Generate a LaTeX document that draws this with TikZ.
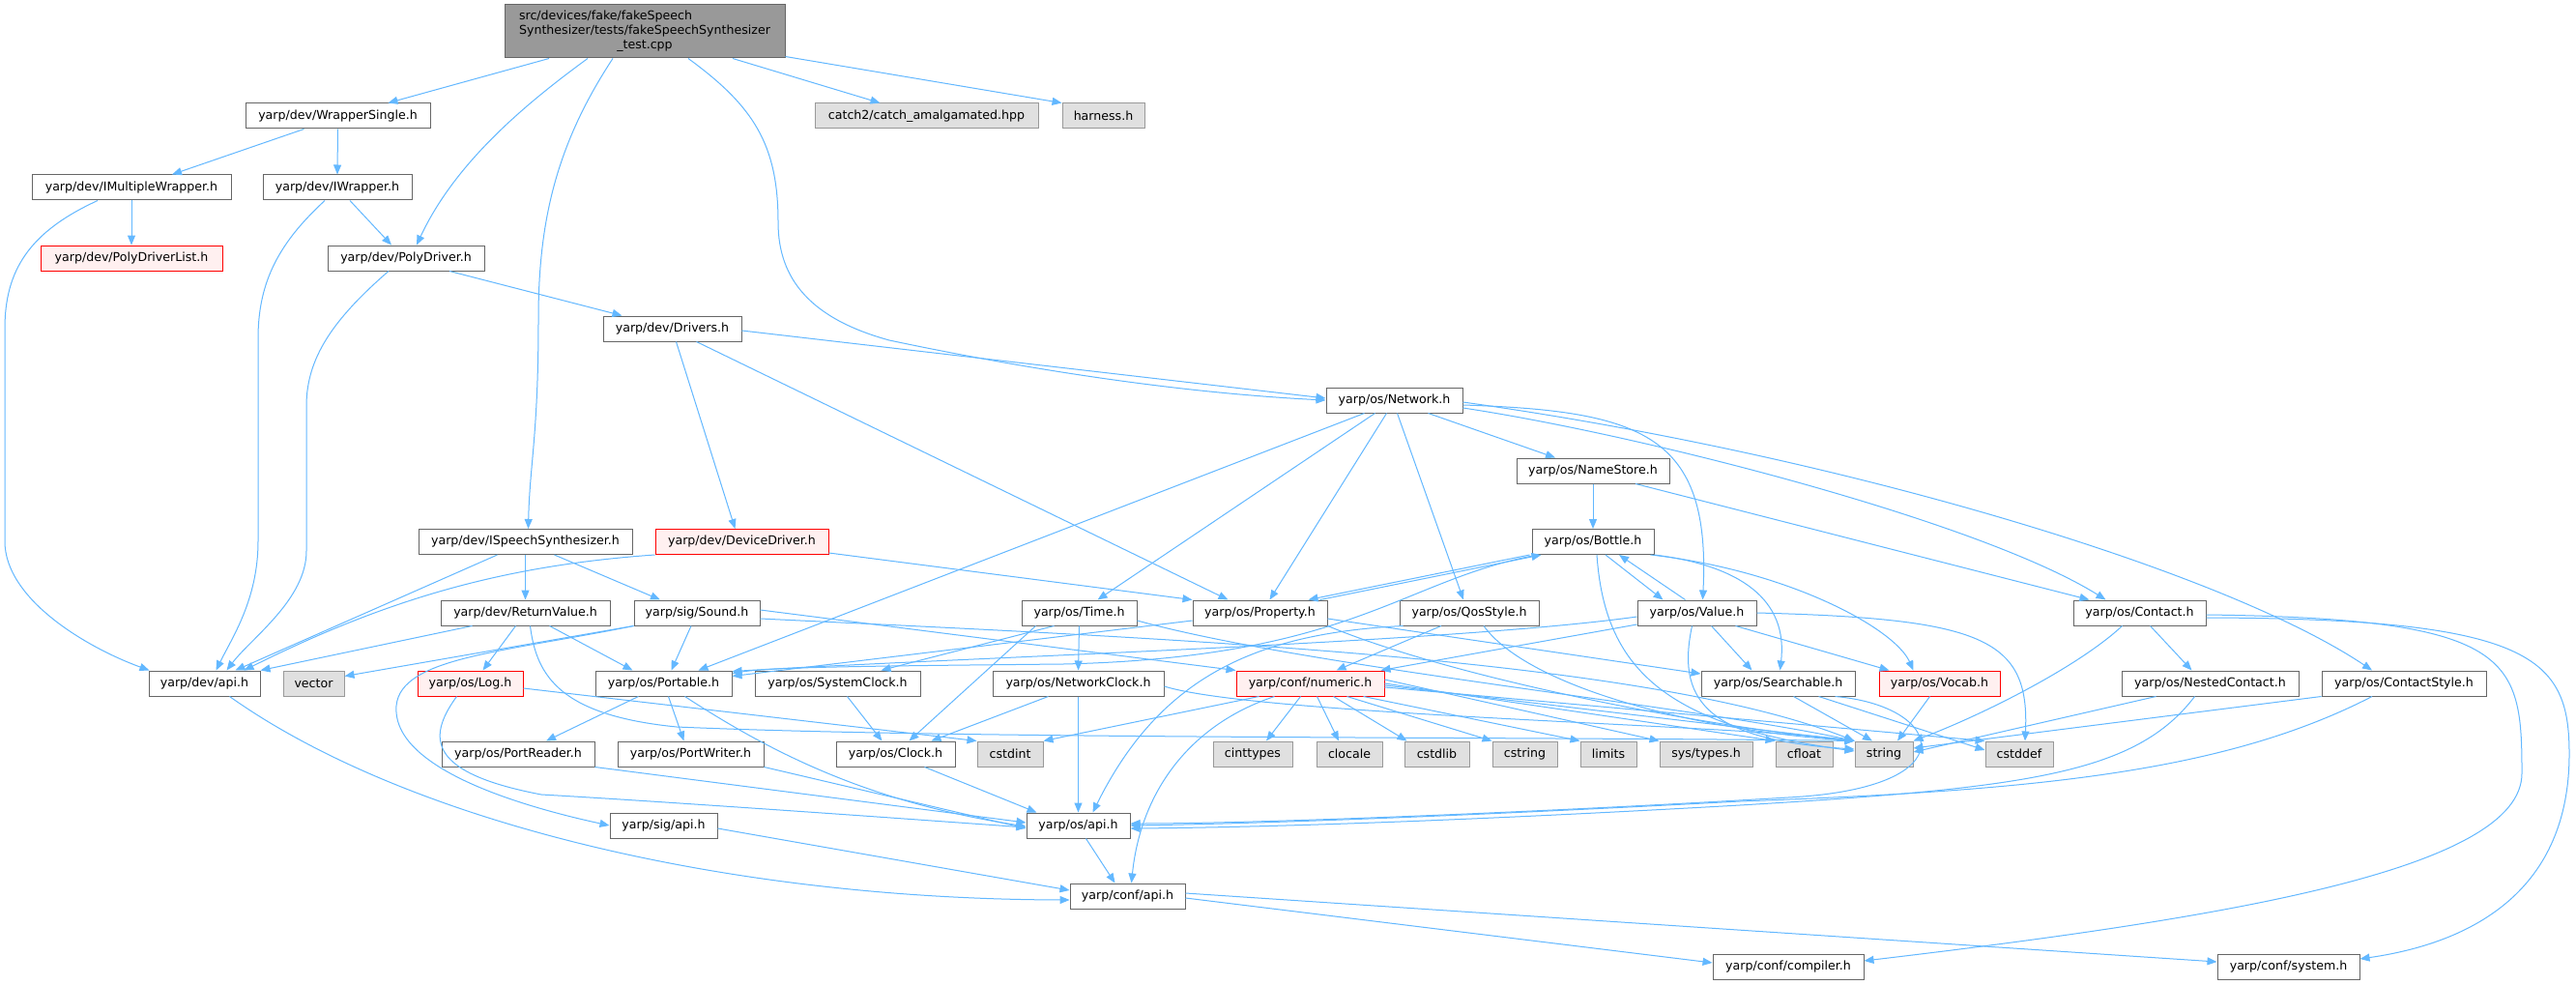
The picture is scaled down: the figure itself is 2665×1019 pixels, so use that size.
\documentclass[tikz,border=0pt]{standalone}
\usepackage{fontspec}
\usetikzlibrary{arrows.meta}
\newfontfamily\dvs{DejaVu Sans}
\newcommand\ndfont{\dvs\fontsize{12.6}{15.3}\selectfont}
\definecolor{eblue}{HTML}{63B8FF}
\definecolor{bord}{HTML}{666666}
\definecolor{gbord}{HTML}{999999}
\definecolor{gfill}{HTML}{E0E0E0}
\definecolor{rfill}{HTML}{FFF0F0}
\definecolor{mfill}{HTML}{999999}
\definecolor{rbord}{HTML}{FF0000}
\tikzset{
  nd/.style={draw=bord, fill=white, line width=1pt, minimum height=26pt, inner sep=0pt, font=\ndfont, text=black},
  gnd/.style={nd, draw=gbord, fill=gfill},
  rnd/.style={nd, draw=rbord, fill=rfill},
  e/.style={draw=eblue, line width=1pt, -{Triangle[length=10pt,width=8pt]}},
}
\begin{document}
\begin{tikzpicture}[x=1pt,y=-1pt]
\fill[white] (0,0) rectangle (2665,1019);
\useasboundingbox (0,0) rectangle (2665,1019);
% ---------- nodes ----------
\node[nd, fill=mfill, minimum width=290pt, minimum height=55pt] (main) at (667,32.5)
  {\begin{tabular}{@{}l@{}}src/devices/fake/fakeSpeech\\Synthesizer/tests/fakeSpeechSynthesizer\\\multicolumn{1}{@{}c@{}}{\_test.cpp}\end{tabular}};
\node[nd, minimum width=191pt] (ws) at (349.5,120) {yarp/dev/WrapperSingle.h};
\node[gnd, minimum width=231pt] (catch) at (958.5,120) {catch2/catch\_amalgamated.hpp};
\node[gnd, minimum width=85pt] (harness) at (1141.5,120) {harness.h};
\node[nd, minimum width=206pt] (imw) at (136,194) {yarp/dev/IMultipleWrapper.h};
\node[nd, minimum width=154pt] (iw) at (349,194) {yarp/dev/IWrapper.h};
\node[rnd, minimum width=188pt] (pdl) at (136,267) {yarp/dev/PolyDriverList.h};
\node[nd, minimum width=162pt] (pd) at (420,267) {yarp/dev/PolyDriver.h};
\node[nd, minimum width=143pt] (drivers) at (695.5,340) {yarp/dev/Drivers.h};
\node[nd, minimum width=141pt] (net) at (1442.5,414) {yarp/os/Network.h};
\node[nd, minimum width=158pt] (ns) at (1648,487) {yarp/os/NameStore.h};
\node[nd, minimum width=221pt] (isp) at (543.5,560.5) {yarp/dev/ISpeechSynthesizer.h};
\node[rnd, minimum width=179pt] (dd) at (767.5,560.5) {yarp/dev/DeviceDriver.h};
\node[nd, minimum width=126pt] (bottle) at (1648,560.5) {yarp/os/Bottle.h};
\node[nd, minimum width=175pt] (rv) at (543.5,634) {yarp/dev/ReturnValue.h};
\node[nd, minimum width=130pt] (snd) at (721,634) {yarp/sig/Sound.h};
\node[nd, minimum width=119pt] (time) at (1116.5,634) {yarp/os/Time.h};
\node[nd, minimum width=139pt] (prop) at (1303.5,634) {yarp/os/Property.h};
\node[nd, minimum width=144pt] (qos) at (1520,634) {yarp/os/QosStyle.h};
\node[nd, minimum width=123pt] (value) at (1755.5,634) {yarp/os/Value.h};
\node[nd, minimum width=137pt] (contact) at (2213.5,634) {yarp/os/Contact.h};
\node[nd, minimum width=115pt] (devapi) at (211.5,707) {yarp/dev/api.h};
\node[gnd, minimum width=63pt] (vector) at (324.5,707) {vector};
\node[rnd, minimum width=109pt] (log) at (486.5,707) {yarp/os/Log.h};
\node[nd, minimum width=141pt] (portable) at (686.5,707) {yarp/os/Portable.h};
\node[nd, minimum width=171pt] (sc) at (866.5,707) {yarp/os/SystemClock.h};
\node[nd, minimum width=177pt] (nc) at (1115.5,707) {yarp/os/NetworkClock.h};
\node[rnd, minimum width=153pt] (numeric) at (1355.5,707) {yarp/conf/numeric.h};
\node[nd, minimum width=159pt] (searchable) at (1839.5,707) {yarp/os/Searchable.h};
\node[rnd, minimum width=125pt] (vocab) at (2006.5,707) {yarp/os/Vocab.h};
\node[nd, minimum width=183pt] (nested) at (2286.5,707) {yarp/os/NestedContact.h};
\node[nd, minimum width=170pt] (cstyle) at (2487,707) {yarp/os/ContactStyle.h};
\node[nd, minimum width=158pt] (pr) at (536,780) {yarp/os/PortReader.h};
\node[nd, minimum width=151pt] (pw) at (714.5,780) {yarp/os/PortWriter.h};
\node[nd, minimum width=123pt] (clock) at (926.5,780) {yarp/os/Clock.h};
\node[gnd, minimum width=68pt] (cstdint) at (1045,780) {cstdint};
\node[gnd, minimum width=82pt] (cinttypes) at (1296,780) {cinttypes};
\node[gnd, minimum width=68pt] (clocale) at (1396,780) {clocale};
\node[gnd, minimum width=67pt] (cstdlib) at (1486.5,780) {cstdlib};
\node[gnd, minimum width=67pt] (cstring) at (1577.5,780) {cstring};
\node[gnd, minimum width=58pt] (limits) at (1664,780) {limits};
\node[gnd, minimum width=96pt] (systypes) at (1765,780) {sys/types.h};
\node[gnd, minimum width=59pt] (cfloat) at (1866.5,780) {cfloat};
\node[gnd, minimum width=60pt] (strg) at (1949,780) {string};
\node[gnd, minimum width=70pt] (cstddef) at (2089,780) {cstddef};
\node[nd, minimum width=111pt] (sigapi) at (686.5,854) {yarp/sig/api.h};
\node[nd, minimum width=107pt] (osapi) at (1115.5,854) {yarp/os/api.h};
\node[nd, minimum width=119pt] (confapi) at (1166.5,927) {yarp/conf/api.h};
\node[nd, minimum width=156pt] (compiler) at (1850,1000) {yarp/conf/compiler.h};
\node[nd, minimum width=147pt] (system) at (2367.5,1000) {yarp/conf/system.h};
% ---------- edges ----------
% main
\draw[e] ([xshift=-99pt]main.south) -- ([xshift=52pt]ws.north);
\draw[e] ([xshift=-59pt]main.south) .. controls (540,110) and (470,170) .. ([xshift=11pt]pd.north);
\draw[e] ([xshift=-33pt]main.south) .. controls (575,150) and (557,230) .. (557,330) .. controls (557,450) and (548,480) .. ([xshift=3pt]isp.north);
\draw[e] ([xshift=45pt]main.south) .. controls (780,110) and (805,150) .. (805,230) .. controls (805,290) and (840,330) .. (920,352) .. controls (1100,390) and (1250,408) .. (net.west);
\draw[e] ([xshift=91pt]main.south) -- ([xshift=-48pt]catch.north);
\draw[e] ([yshift=2pt]main.south east) -- (harness.north west);
% wrappers
\draw[e] ([xshift=-35pt]ws.south) -- ([xshift=42pt]imw.north);
\draw[e] (ws.south) -- (iw.north);
\draw[e] (imw.south) -- (pdl.north);
\draw[e] ([xshift=-35pt]imw.south) .. controls (30,240) and (5,280) .. (5,340) -- (5,560) .. controls (5,620) and (90,670) .. ([xshift=-57pt]devapi.north);
\draw[e] ([xshift=13pt]iw.south) -- ([xshift=-15pt]pd.north);
\draw[e] ([xshift=-13pt]iw.south) .. controls (290,250) and (267,290) .. (267,350) -- (267,560) .. controls (267,620) and (240,660) .. ([xshift=12pt]devapi.north);
\draw[e] ([xshift=-18pt]pd.south) .. controls (345,330) and (317,370) .. (317,420) -- (317,570) .. controls (317,620) and (260,660) .. ([xshift=23pt]devapi.north);
\draw[e] ([xshift=45pt]pd.south) -- ([xshift=-52pt]drivers.north);
% drivers
\draw[e] ([xshift=4pt]drivers.south) -- ([xshift=-7pt]dd.north);
\draw[e] ([yshift=-2pt]drivers.east) -- ([yshift=2pt]net.west);
\draw[e] ([xshift=25pt]drivers.south) -- ([xshift=-33pt]prop.north);
% network
\draw[e] ([xshift=-31pt]net.south) -- ([xshift=36pt]portable.north);
\draw[e] ([xshift=-20pt]net.south) -- ([xshift=19pt]time.north);
\draw[e] ([xshift=-8pt]net.south) -- ([xshift=10pt]prop.north);
\draw[e] ([xshift=3pt]net.south) -- ([xshift=-6pt]qos.north);
\draw[e] ([xshift=35pt]net.south) -- ([xshift=-39pt]ns.north);
\draw[e] ([yshift=-5pt]net.east) .. controls (1700,425) and (1770,450) .. ([xshift=6pt]value.north);
\draw[e] ([yshift=-8pt]net.east) .. controls (1700,450) and (2050,540) .. ([xshift=-35pt]contact.north);
\draw[e] ([yshift=-2pt]net.east) .. controls (1900,470) and (2300,590) .. ([xshift=-33pt]cstyle.north);
\draw[e] (ns.south) -- (bottle.north);
\draw[e] ([xshift=44pt]ns.south) -- ([xshift=-52pt]contact.north);
% ISpeechSynthesizer, DeviceDriver
\draw[e] ([xshift=-29pt]isp.south) -- ([xshift=32pt]devapi.north);
\draw[e] (isp.south) -- (rv.north);
\draw[e] ([xshift=30pt]isp.south) -- ([xshift=-38pt]snd.north);
\draw[e] (dd.south west) .. controls (520,585) and (400,620) .. ([xshift=41pt]devapi.north);
\draw[e] ([yshift=2pt]dd.south east) -- (prop.north west);
% ReturnValue
\draw[e] ([xshift=-55pt]rv.south) -- (devapi.north east);
\draw[e] ([xshift=-10pt]rv.south) -- ([xshift=13pt]log.north);
\draw[e] ([xshift=25pt]rv.south) -- ([xshift=-32pt]portable.north);
\draw[e] ([xshift=5pt]rv.south) .. controls (555,700) and (580,740) .. (700,752) .. controls (1000,765) and (1600,762) .. (strg.north west);
% Sound
\draw[e] (snd.south west) -- ([yshift=-6pt]vector.north east);
\draw[e] (snd.south west) .. controls (520,675) and (415,680) .. (410,730) .. controls (405,790) and (520,830) .. (sigapi.west);
\draw[e] ([xshift=-6pt]snd.south) -- ([xshift=8pt]portable.north);
\draw[e] ([yshift=3pt]snd.east) -- (numeric.north west);
\draw[e] ([yshift=-6pt]snd.east) .. controls (1200,660) and (1700,680) .. (strg.north west);
% Log
\draw[e] ([xshift=-14pt]log.south) .. controls (440,765) and (445,800) .. (560,822) .. controls (700,830) and (950,848) .. ([yshift=-2pt]osapi.west);
\draw[e] ([yshift=-5pt]log.east) -- (cstdint.north west);
% Portable
\draw[e] ([xshift=-26pt]portable.south) -- ([xshift=29pt]pr.north);
\draw[e] ([xshift=5pt]portable.south) -- ([xshift=-7pt]pw.north);
\draw[e] ([xshift=22pt]portable.south) .. controls (800,780) and (900,830) .. ([yshift=-1pt]osapi.west);
\draw[e] (pr.south east) -- ([yshift=3pt]osapi.west);
\draw[e] (pw.south east) -- ([yshift=-3pt]osapi.west);
% clocks
\draw[e] ([xshift=10pt]sc.south) -- ([xshift=-14pt]clock.north);
\draw[e] ([xshift=-26pt]time.south) -- ([xshift=45pt]sc.north);
\draw[e] ([xshift=-45pt]time.south) -- ([xshift=14pt]clock.north);
\draw[e] (time.south) -- (nc.north);
\draw[e] ([yshift=-8pt]time.east) .. controls (1350,690) and (1750,730) .. (strg.north west);
\draw[e] ([xshift=-31pt]nc.south) -- ([xshift=37pt]clock.north);
\draw[e] (nc.south) -- (osapi.north);
\draw[e] ([yshift=-3pt]nc.east) .. controls (1300,740) and (1800,750) .. (strg.north west);
\draw[e] ([xshift=30pt]clock.south) -- ([xshift=-43pt]osapi.north);
% Property / Bottle / Value
\draw[e] ([xshift=-8pt]prop.north east) -- ([xshift=10pt]bottle.south west);
\draw[e] ([xshift=-2pt]bottle.south west) -- ([xshift=-20pt]prop.north east);
\draw[e] ([yshift=-8pt]prop.west) -- ([yshift=-6pt]portable.north east);
\draw[e] ([yshift=-6pt]prop.east) -- ([yshift=10pt]searchable.west);
\draw[e] (prop.south east) .. controls (1500,700) and (1750,750) .. (strg.north west);
\draw[e] ([xshift=6pt]bottle.south west) .. controls (1450,600) and (1400,680) .. (1100,687) .. controls (900,689) and (800,690) .. ([yshift=-3pt]portable.north east);
\draw[e] ([xshift=4pt]bottle.south) .. controls (1660,690) and (1720,750) .. ([yshift=3pt]strg.west);
\draw[e] ([xshift=13pt]bottle.south) -- ([xshift=-35pt]value.north);
\draw[e] ([xshift=-12pt]value.north) -- ([xshift=27pt]bottle.south);
\draw[e] (bottle.south east) .. controls (1800,585) and (1850,620) .. ([xshift=2pt]searchable.north);
\draw[e] ([xshift=-4pt]bottle.south east) .. controls (1850,590) and (1960,650) .. ([xshift=-27pt]vocab.north);
\draw[e] ([xshift=15pt]value.south) -- ([xshift=-27pt]searchable.north);
\draw[e] ([xshift=40pt]value.south) -- ([xshift=-52pt]vocab.north);
\draw[e] ([xshift=-5pt]value.south) .. controls (1735,720) and (1760,765) .. ([yshift=5pt]strg.west);
\draw[e] (value.east) .. controls (2050,640) and (2100,660) .. ([xshift=6pt]cstddef.north);
\draw[e] ([yshift=-12pt]value.west) -- ([xshift=-4pt]numeric.north east);
\draw[e] ([yshift=-4pt]value.west) .. controls (1500,665) and (1000,680) .. ([yshift=-1pt]portable.north east);
% QosStyle
\draw[e] ([xshift=-29pt]qos.south) -- ([xshift=27pt]numeric.north);
\draw[e] ([xshift=4pt]qos.south west) .. controls (1300,655) and (1200,700) .. ([xshift=15pt]osapi.north);
\draw[e] ([xshift=15pt]qos.south) .. controls (1580,710) and (1750,755) .. (strg.north west);
% Contact family
\draw[e] ([xshift=-18pt]contact.south) .. controls (2150,690) and (2050,740) .. (strg.north east);
\draw[e] ([xshift=11pt]contact.south) -- ([xshift=-19pt]nested.north);
\draw[e] ([yshift=-2pt]contact.east) .. controls (2600,640) and (2609,680) .. (2609,800) .. controls (2609,900) and (2300,950) .. ([yshift=6pt]compiler.east);
\draw[e] ([yshift=-5pt]contact.east) .. controls (2620,640) and (2658,680) .. (2658,780) .. controls (2658,920) and (2560,975) .. ([yshift=8pt]system.east);
\draw[e] ([xshift=16pt]searchable.south) -- ([xshift=-12pt]strg.north);
\draw[e] ([xshift=42pt]searchable.south) -- ([yshift=4pt]cstddef.west);
\draw[e] ([xshift=59pt]searchable.south) .. controls (2010,730) and (2040,815) .. (1850,825) .. controls (1600,840) and (1300,852) .. ([yshift=2pt]osapi.east);
\draw[e] ([xshift=-10pt]vocab.south) -- ([xshift=14pt]strg.north);
\draw[e] ([xshift=-56pt]nested.south) -- ([yshift=2pt]strg.east);
\draw[e] ([xshift=-16pt]nested.south) .. controls (2210,800) and (2100,815) .. (1800,833) .. controls (1500,850) and (1300,856) .. ([yshift=-3pt]osapi.east);
\draw[e] (cstyle.south west) -- ([yshift=6pt]strg.east);
\draw[e] ([xshift=-33pt]cstyle.south) .. controls (2300,800) and (2100,818) .. (1800,829) .. controls (1500,845) and (1300,852) .. (osapi.east);
% numeric
\draw[e] ([xshift=-53pt]numeric.south) -- (cstdint.north east);
\draw[e] ([xshift=-37pt]numeric.south) .. controls (1230,750) and (1180,820) .. ([xshift=4pt]confapi.north);
\draw[e] ([xshift=-10pt]numeric.south) -- ([xshift=14pt]cinttypes.north);
\draw[e] ([xshift=7pt]numeric.south) -- ([xshift=-11pt]clocale.north);
\draw[e] ([xshift=24pt]numeric.south) -- ([xshift=-31pt]cstdlib.north);
\draw[e] ([xshift=38pt]numeric.south) -- (cstring.north west);
\draw[e] ([xshift=55pt]numeric.south) -- (limits.north west);
\draw[e] ([yshift=4pt]numeric.east) -- (systypes.north west);
\draw[e] (numeric.east) -- (cfloat.north west);
\draw[e] ([yshift=-2pt]numeric.east) -- (strg.north west);
\draw[e] ([yshift=-4pt]numeric.east) -- (cstddef.north west);
% api headers
\draw[e] ([xshift=8pt]osapi.south) -- ([xshift=-13pt]confapi.north);
\draw[e] ([yshift=-3pt]sigapi.east) -- ([yshift=6pt]confapi.west);
\draw[e] ([xshift=26pt]devapi.south) .. controls (420,850) and (750,930) .. ([yshift=-4pt]confapi.west);
\draw[e] ([yshift=-2pt]confapi.east) -- ([yshift=4pt]compiler.west);
\draw[e] ([yshift=3pt]confapi.east) -- ([yshift=5pt]system.west);
\end{tikzpicture}
\end{document}
